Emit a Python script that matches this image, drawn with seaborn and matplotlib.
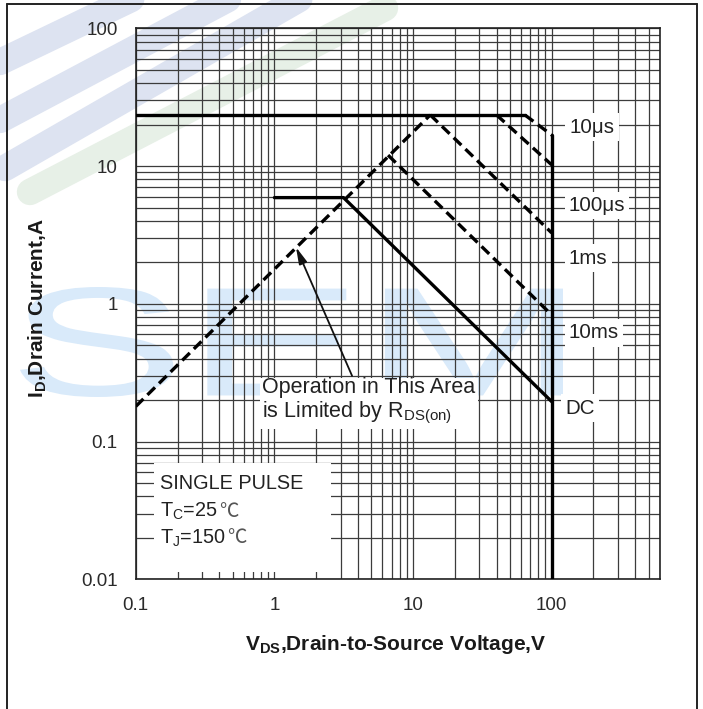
import matplotlib
matplotlib.use("Agg")
import matplotlib.pyplot as plt
import seaborn as sns
import numpy as np
import pandas as pd
from matplotlib.patches import Rectangle, PathPatch
from matplotlib.lines import Line2D
from matplotlib.textpath import TextPath
from matplotlib.font_manager import FontProperties
from matplotlib.transforms import Affine2D, IdentityTransform
from matplotlib.ticker import NullFormatter, FixedLocator, FixedFormatter

# ---------------- data ----------------
rds_v = [0.1, 13.3]
rds_i = [0.18, 23.5]
imax_v = [0.1, 64.0]
imax_i = [23.5, 23.5]
us10_v = [64.0, 100.0]
us10_i = [23.5, 16.8]
us100_v = [40.0, 100.0]
us100_i = [23.5, 10.2]
ms1_v = [13.3, 100.0]
ms1_i = [23.5, 3.27]
ms10_v = [6.6, 100.0]
ms10_i = [12.0, 0.83]
dc_v = [1.0, 3.15, 100.0]
dc_i = [5.9, 5.9, 0.195]
bv_v = [100.0, 100.0]
bv_i = [16.8, 0.01]

x_ticks = [0.1, 1, 10, 100]
x_ticklabels = ["0.1", "1", "10", "100"]
y_ticks = [0.01, 0.1, 1, 10, 100]
y_ticklabels = ["0.01", "0.1", "1", "10", "100"]
curve_names = ["10\u03bcs", "100\u03bcs", "1ms", "10ms", "DC"]

# ---------------- style ----------------
sns.set_style("white")
plt.rcParams["font.family"] = ["Liberation Sans", "DejaVu Sans"]
plt.rcParams["mathtext.fontset"] = "custom"
plt.rcParams["mathtext.rm"] = "Liberation Sans"
plt.rcParams["mathtext.bf"] = "Liberation Sans:bold"

W, H = 703, 709
fig = plt.figure(figsize=(W / 100, H / 100), dpi=100)
fig.patch.set_facecolor("white")

# --- watermark (pale logo) ---
wm_col = "#d9eafa"
tp = TextPath((0, 0), "SEM", size=100, prop=FontProperties(family="Liberation Sans"))
bb = tp.get_extents()
sx = (563 - 20) / bb.width
sy = (397 - 287) / bb.height
tr = Affine2D().translate(-bb.x0, -bb.y0).scale(sx, sy).translate(20, H - 397)
wm = PathPatch(tr.transform_path(tp), fc=wm_col, ec="none", transform=IdentityTransform(), zorder=-5)
fig.add_artist(wm)
for (x0, y0, x1, y1, c) in [(0, 62, 150, -10, "#dde3f1"), (0, 120, 245, -10, "#dde3f1"),
                            (5, 168, 315, -10, "#dde3f1"), (30, 192, 385, 8, "#e7f0e7")]:
    fig.add_artist(Line2D([x0 / W, x1 / W], [1 - y0 / H, 1 - y1 / H], lw=19,
                          color=c, solid_capstyle="round", zorder=-6, transform=fig.transFigure))

ax = fig.add_axes([135.8 / W, 1 - 579.3 / H, (659.6 - 135.8) / W, (579.3 - 28.3) / H])
ax.patch.set_alpha(0)
ax.set_xscale("log")
ax.set_yscale("log")
ax.set_xlim(0.1, 600)
ax.set_ylim(0.01, 100)

ax.grid(True, which="both", color="#3c3c3c", lw=0.9)
ax.xaxis.set_major_locator(FixedLocator(x_ticks))
ax.xaxis.set_major_formatter(FixedFormatter(x_ticklabels))
ax.yaxis.set_major_locator(FixedLocator(y_ticks))
ax.yaxis.set_major_formatter(FixedFormatter(y_ticklabels))
ax.xaxis.set_minor_formatter(NullFormatter())
ax.yaxis.set_minor_formatter(NullFormatter())
ax.tick_params(which="both", length=0, labelsize=13.5, labelcolor="#2a2a2a")
ax.tick_params(axis="x", pad=12.5)
ax.tick_params(axis="y", pad=13)
for s in ax.spines.values():
    s.set_color("#222222")
    s.set_linewidth(1.2)

LW = 2.4
dash = (0, (3.2, 1.7))
common = dict(ax=ax, color="black", estimator=None, sort=False, lw=LW, zorder=4)
sns.lineplot(x=imax_v, y=imax_i, **common)
sns.lineplot(x=bv_v, y=bv_i, **common)
sns.lineplot(x=dc_v, y=dc_i, **common)
for xv, yv in [(rds_v, rds_i), (us10_v, us10_i), (us100_v, us100_i), (ms1_v, ms1_i), (ms10_v, ms10_i)]:
    sns.lineplot(x=xv, y=yv, linestyle=dash, **common)

# --- curve labels ---
lab_pos = [(195, 19.2), (212, 5.2), (183, 2.15), (202, 0.614), (160, 0.175)]
for name, (lx, ly) in zip(curve_names, lab_pos):
    ax.text(lx, ly, name, ha="center", va="center", fontsize=14.8, color="#222222", zorder=5,
            bbox=dict(boxstyle="square,pad=0.2", fc="white", ec="none"))

# --- RDS(on) annotation ---
ax.annotate("", xy=(1.43, 2.58), xytext=(3.63, 0.30),
            arrowprops=dict(arrowstyle="-|>,head_length=1.0,head_width=0.25", color="#111111",
                            lw=1.3, shrinkA=0, shrinkB=0), zorder=5)
ax.text(0.815, 0.195, "Operation in This Area\nis Limited by R$_{\\mathregular{DS(on)}}$",
        ha="left", va="center", fontsize=15.5, color="#222222", linespacing=1.15, zorder=6,
        bbox=dict(boxstyle="square,pad=0.12", fc="white", ec="none"))

# --- SINGLE PULSE block ---
ax.add_patch(Rectangle((0.035, 0.013), 0.338, 0.198, transform=ax.transAxes,
                       fc="white", ec="none", zorder=3))
ax.text(0.15, 0.05, "SINGLE PULSE", ha="left", va="center", fontsize=14.3, color="#222222", zorder=6)
for txt, yv in [("T$_{\\mathregular{C}}$=25", 0.0285), ("T$_{\\mathregular{J}}$=150", 0.0182)]:
    t = ax.text(0.15, yv, txt, ha="left", va="baseline", fontsize=14.3, color="#222222", zorder=6)
    ax.annotate("\u2103", xy=(1, yv), xycoords=(t, "data"), xytext=(0.5, 0), textcoords="offset points",
                ha="left", va="baseline", fontsize=14, color="#555555", zorder=6,
                family=["Noto Sans CJK SC", "DejaVu Sans"])

# --- axis titles ---
fig.text(396 / W, 1 - 645 / H, "V$_{\\mathregular{DS}}$,Drain-to-Source Voltage,V",
         ha="center", va="center", fontsize=15, fontweight="bold", color="#1a1a1a")
fig.text(38 / W, 1 - 308 / H, "I$_{\\mathregular{D}}$,Drain Current,A", rotation=90,
         ha="center", va="center", fontsize=15, fontweight="bold", color="#1a1a1a")

# --- outer frame ---
fx0, fx1, fy1 = 7 / W, 697 / W, 1 - 4 / H
for xs, ys in [([fx0, fx0], [0, fy1]), ([fx0, fx1], [fy1, fy1]), ([fx1, fx1], [fy1, 0])]:
    fig.add_artist(Line2D(xs, ys, color="#222222", lw=1.4, transform=fig.transFigure))

fig.savefig("out.png", dpi=100, facecolor="white")
